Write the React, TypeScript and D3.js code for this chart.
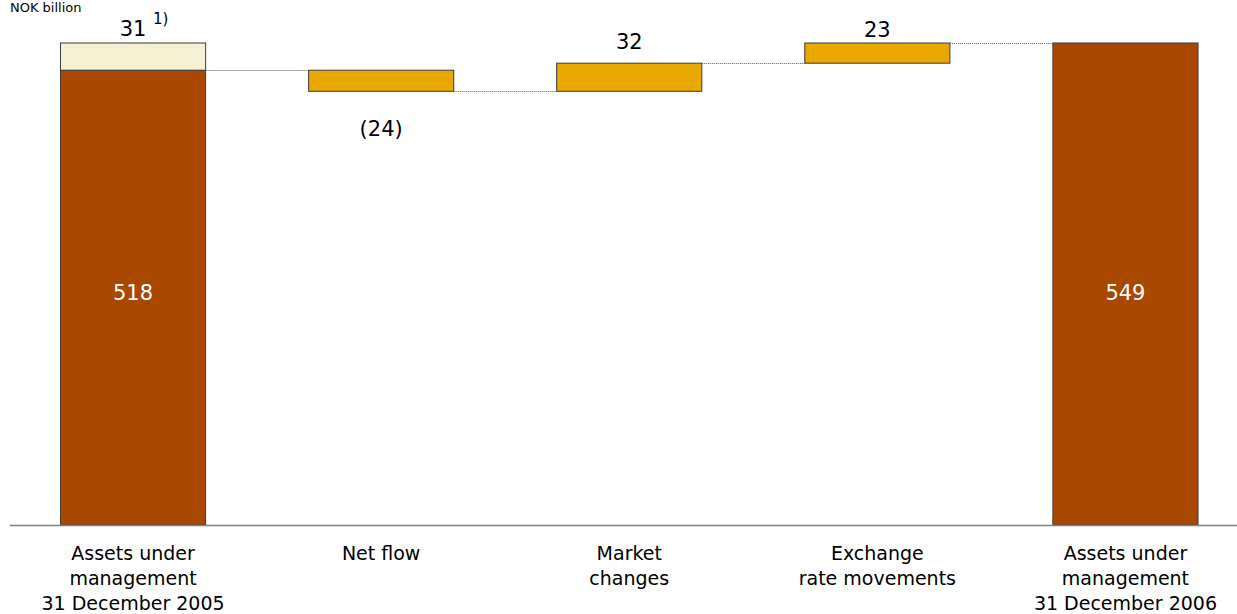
import React from "react";
import * as d3 from "d3";

const categories = [
  ["Assets under", "management", "31 December 2005"],
  ["Net flow"],
  ["Market", "changes"],
  ["Exchange", "rate movements"],
  ["Assets under", "management", "31 December 2006"],
];
const startValue = 518;
const adjustment = 31;
const changes = [-24, 32, 23];
const endValue = 549;
const changeLabels = ["(24)", "32", "23"];
const changeLabelGap = [45, 14, 6];

const W = 1237;
const H = 614;
const FONT = "'DejaVu Sans', Verdana, sans-serif";

export default function App() {
  const x = d3
    .scaleBand<number>()
    .domain(d3.range(categories.length))
    .range([9, 1249.5])
    .paddingInner(0.415)
    .paddingOuter(0.2075);
  const y = d3.scaleLinear().domain([0, endValue]).range([525, 43]);
  const bw = x.bandwidth();

  const steps: { from: number; to: number; label: string }[] = [];
  let level = startValue;
  changes.forEach((c, i) => {
    steps.push({ from: level, to: level + c, label: changeLabels[i] });
    level += c;
  });

  const levels = [startValue, ...steps.map((s) => s.to)];
  const stroke = "#3a3a3a";
  const valueY = (y(0) + y(startValue)) / 2 + 2;

  return (
    <svg
      width={W}
      height={H}
      style={{ position: "absolute", left: 0, top: 0, background: "#fff" }}
      fontFamily={FONT}
    >
      <text x={10} y={12} fontSize={13} fill="#000">
        NOK billion
      </text>

      {/* first bar */}
      <rect x={x(0)} y={y(startValue)} width={bw} height={y(0) - y(startValue)} fill="#AA4700" stroke={stroke} strokeWidth={1} />
      <rect
        x={x(0)}
        y={y(startValue + adjustment)}
        width={bw}
        height={y(startValue) - y(startValue + adjustment)}
        fill="#F6F1D2"
        stroke={stroke}
        strokeWidth={1}
      />
      <text x={x(0)! + bw / 2} y={valueY} textAnchor="middle" fontSize={21} fill="#fff">
        {startValue}
      </text>
      <text x={x(0)! + bw / 2} y={y(startValue + adjustment) - 7} textAnchor="middle" fontSize={21} fill="#000">
        {adjustment}
      </text>
      <text x={x(0)! + bw / 2 + 20} y={y(startValue + adjustment) - 19} fontSize={15} fill="#000">
        1)
      </text>

      {/* change bars */}
      {steps.map((s, i) => {
        const xi = x(i + 1)!;
        const top = y(Math.max(s.from, s.to));
        const bot = y(Math.min(s.from, s.to));
        const neg = s.to < s.from;
        return (
          <g key={i}>
            <rect x={xi} y={top} width={bw} height={bot - top} fill="#E8A800" stroke={stroke} strokeWidth={1} />
            <text
              x={xi + bw / 2}
              y={neg ? bot + changeLabelGap[i] : top - changeLabelGap[i]}
              textAnchor="middle"
              fontSize={21}
              fill="#000"
            >
              {s.label}
            </text>
          </g>
        );
      })}

      {/* last bar */}
      <rect x={x(4)} y={y(endValue)} width={bw} height={y(0) - y(endValue)} fill="#AA4700" stroke={stroke} strokeWidth={1} />
      <text x={x(4)! + bw / 2} y={valueY} textAnchor="middle" fontSize={21} fill="#fff">
        {endValue}
      </text>

      {/* connectors */}
      {levels.map((lv, i) => (
        <line
          key={i}
          x1={x(i)! + bw}
          x2={x(i + 1)!}
          y1={Math.round(y(lv)) + 0.5}
          y2={Math.round(y(lv)) + 0.5}
          stroke="#555"
          strokeWidth={1}
          strokeDasharray="1,1"
        />
      ))}

      {/* axis */}
      <line x1={10} x2={W} y1={525.5} y2={525.5} stroke="#808080" strokeWidth={1.5} />

      {/* category labels */}
      {categories.map((lines, i) => (
        <text key={i} textAnchor="middle" fontSize={19} fill="#000">
          {lines.map((ln, j) => (
            <tspan key={j} x={x(i)! + bw / 2} y={560 + j * 25}>
              {ln}
            </tspan>
          ))}
        </text>
      ))}
    </svg>
  );
}
